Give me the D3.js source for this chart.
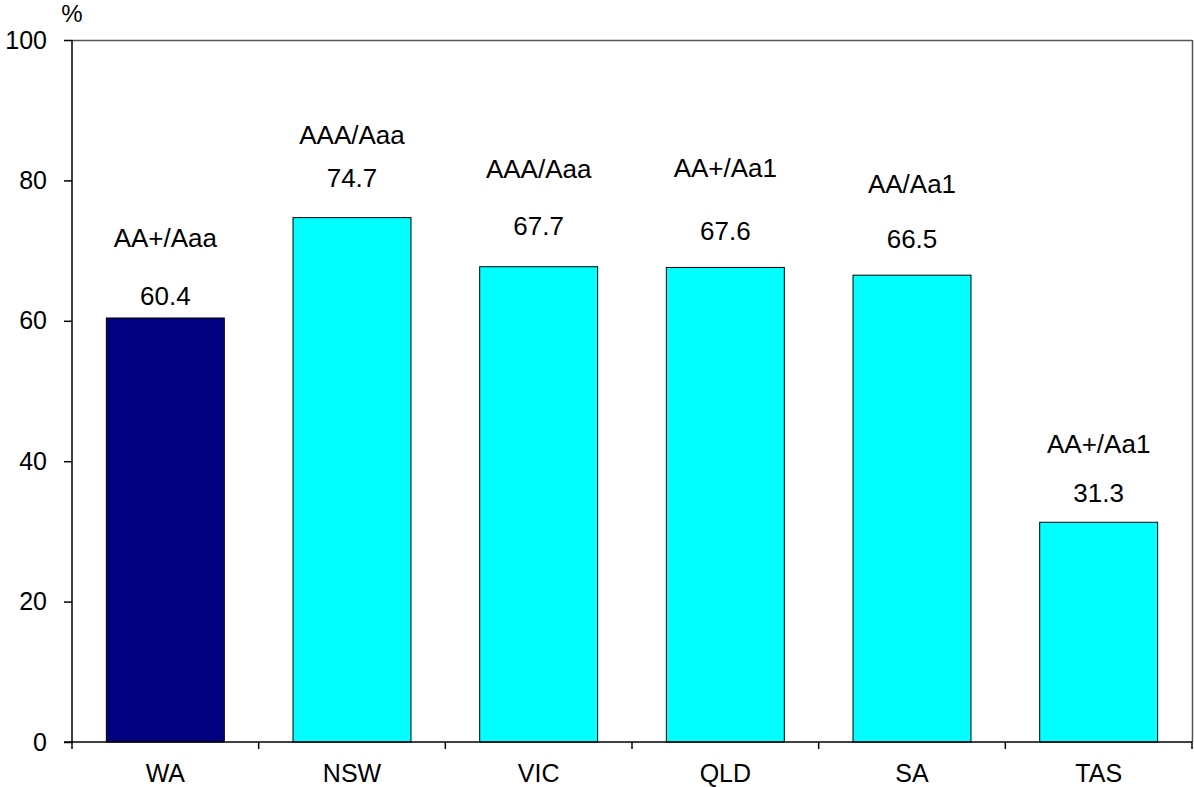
<!DOCTYPE html>
<html>
<head>
<meta charset="utf-8">
<script src="https://cdn.jsdelivr.net/npm/d3@7/dist/d3.min.js"></script>
<style>
  html, body { margin: 0; padding: 0; background: #fff; }
  text { font-family: "Liberation Sans", Arial, sans-serif; fill: #000; }
</style>
</head>
<body>
<svg id="chart" width="1194" height="787"></svg>
<script>
const categories = ["WA", "NSW", "VIC", "QLD", "SA", "TAS"];
const values = [60.4, 74.7, 67.7, 67.6, 66.5, 31.3];
const ratings = ["AA+/Aaa", "AAA/Aaa", "AAA/Aaa", "AA+/Aa1", "AA/Aa1", "AA+/Aa1"];
const yTicks = [0, 20, 40, 60, 80, 100];

// layout (label baselines relative to bar top, in px)
const ratingOffset = [-71, -74, -89, -90, -82, -69];
const valueOffset = [-13, -31, -32, -27, -27, -20];
const barColors = ["#000080", "#00FFFF", "#00FFFF", "#00FFFF", "#00FFFF", "#00FFFF"];

const svg = d3.select("#chart");
const mLeft = 72, mRight = 1192, mTop = 40, mBottom = 742;
const fs = 25, lfs = 26;

const x = d3.scaleBand().domain(categories).range([mLeft, mRight]).paddingInner(0.368).paddingOuter(0.184);
const y = d3.scaleLinear().domain([0, 100]).range([mBottom, mTop]);

// plot border (top and right)
svg.append("line").attr("x1", mLeft).attr("x2", mRight).attr("y1", mTop + 0.5).attr("y2", mTop + 0.5)
  .attr("stroke", "#555").attr("stroke-width", 1.5);
svg.append("line").attr("x1", mRight + 0.5).attr("x2", mRight + 0.5).attr("y1", mTop).attr("y2", mBottom)
  .attr("stroke", "#555").attr("stroke-width", 1.5);

// bars
svg.selectAll("rect.bar").data(categories).enter().append("rect")
  .attr("class", "bar")
  .attr("x", d => x(d))
  .attr("width", x.bandwidth())
  .attr("y", (d, i) => y(values[i]))
  .attr("height", (d, i) => y(0) - y(values[i]))
  .attr("fill", (d, i) => barColors[i])
  .attr("stroke", "#000").attr("stroke-width", 1);

// y axis
const yAxis = svg.append("g").attr("transform", `translate(${mLeft},0)`)
  .call(d3.axisLeft(y).tickValues(yTicks).tickSize(8).tickPadding(17).tickFormat(d3.format("d")));
yAxis.select(".domain").attr("stroke", "#000").attr("stroke-width", 1.5).attr("d", `M0,${mTop}V${mBottom}`);
yAxis.selectAll(".tick line").attr("stroke", "#000").attr("stroke-width", 1.5);
yAxis.selectAll(".tick text").style("font-size", fs + "px").attr("font-family", "Liberation Sans, Arial, sans-serif").attr("fill", "#000");

// x axis
const xAxis = svg.append("g").attr("transform", `translate(0,${mBottom})`)
  .call(d3.axisBottom(x).tickSize(0).tickPadding(22));
xAxis.select(".domain").attr("stroke", "#000").attr("stroke-width", 1.5).attr("d", `M${mLeft - 8},0H${mRight}`);
xAxis.selectAll(".tick text").style("font-size", fs + "px").attr("font-family", "Liberation Sans, Arial, sans-serif").attr("fill", "#000");

// category boundary ticks
const step = x.step();
const boundaries = d3.range(categories.length + 1).map(i => mLeft + i * step);
svg.selectAll("line.bt").data(boundaries).enter().append("line")
  .attr("class", "bt")
  .attr("x1", d => d).attr("x2", d => d)
  .attr("y1", mBottom).attr("y2", mBottom + 7)
  .attr("stroke", "#000").attr("stroke-width", 1.5);

// labels
svg.selectAll("text.rating").data(categories).enter().append("text")
  .attr("class", "rating")
  .attr("x", d => x(d) + x.bandwidth() / 2)
  .attr("y", (d, i) => y(values[i]) + ratingOffset[i])
  .attr("text-anchor", "middle")
  .style("font-size", lfs + "px")
  .text((d, i) => ratings[i]);

svg.selectAll("text.val").data(categories).enter().append("text")
  .attr("class", "val")
  .attr("x", d => x(d) + x.bandwidth() / 2)
  .attr("y", (d, i) => y(values[i]) + valueOffset[i])
  .attr("text-anchor", "middle")
  .style("font-size", lfs + "px")
  .text((d, i) => d3.format(".1f")(values[i]));

// unit label
svg.append("text").attr("x", mLeft).attr("y", 22).attr("text-anchor", "middle")
  .style("font-size", "24px").text("%");
</script>
</body>
</html>
